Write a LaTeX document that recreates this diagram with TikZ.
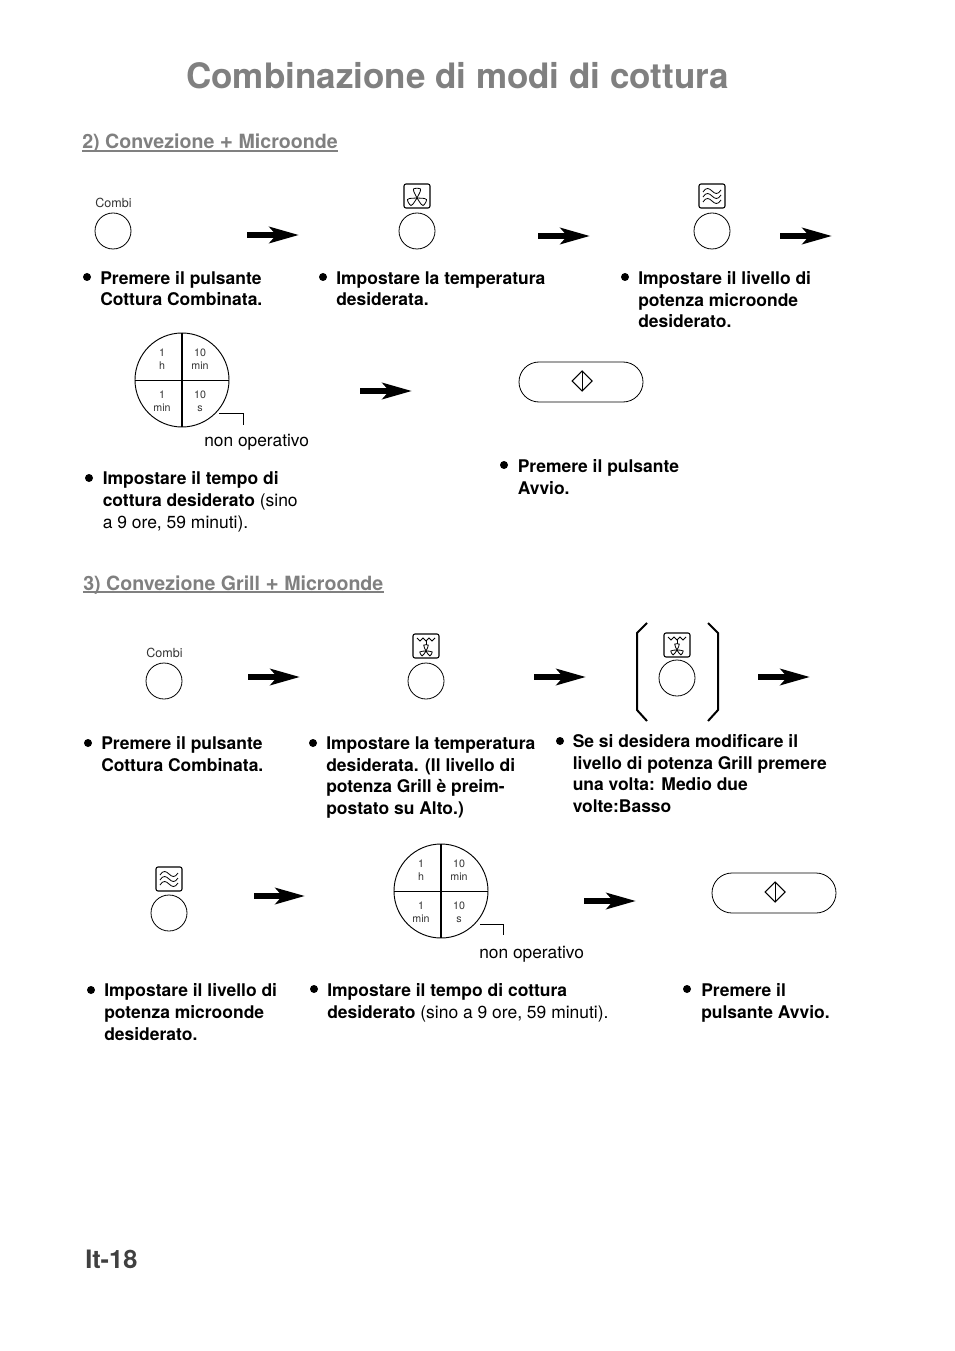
\documentclass[tikz,border=0pt]{standalone}
\usepackage{fontspec}
\setmainfont{TeX Gyre Heros}
\usepackage{xcolor}
\usetikzlibrary{arrows.meta, shapes.geometric}
\definecolor{titlegrey}{rgb}{0.50,0.50,0.50}
\definecolor{pagegrey}{rgb}{0.25,0.25,0.25}
\newcommand{\bigplus}{{\fontsize{17}{18}\selectfont+}}
\tikzset{
    stepbtn/.style={draw, circle, line width=0.6pt, minimum size=27pt, inner sep=0pt},
    flowarrow/.style={line width=4.4pt, -{Stealth[length=22pt, width=12pt, inset=5pt]}},
    dot/.style={circle, fill=black, minimum size=6pt, inner sep=0pt},
    steptext/.style={anchor=base west, inner sep=0pt, align=left, font=\fontsize{13.1}{16.2}\selectfont\bfseries},
    plaintext/.style={anchor=base west, inner sep=0pt, font=\fontsize{13}{16}\selectfont},
    heading/.style={anchor=base west, inner sep=0pt, text=titlegrey, font=\fontsize{14.7}{18}\selectfont\bfseries},
    headline/.style={line width=1pt, titlegrey},
    combitext/.style={inner sep=0pt, text=black!80, font=\fontsize{9.4}{11}\selectfont},
    dialtext/.style={inner sep=0pt, align=center, text=black!80, font=\fontsize{8}{9.8}\selectfont},
    startbtn/.style={draw, line width=0.6pt, rounded corners=15pt, minimum width=93pt, minimum height=30pt, inner sep=0pt},
    pics/iconframe/.style={code={\draw[line width=0.8pt, rounded corners=1.5pt] (-13,-12) rectangle (13,12);}},
    pics/fanblades/.style={code={
        \foreach \a in {0,120,240} { \draw[line width=0.6pt, rotate=\a] (0,0) .. controls (-1,-3) and (-4,-6) .. (-3.5,-9) .. controls (-2,-10) and (2,-10) .. (3.5,-9) .. controls (4,-6) and (1,-3) .. (0,0); }
    }},
    pics/fanicon/.style={code={
        \pic at (0,0) {iconframe};
        \pic at (0,2) {fanblades};
    }},
    pics/waveicon/.style={code={
        \pic at (0,0) {iconframe};
        \foreach \y in {-5,0,5} {
            \draw[line width=0.6pt] (-9,\y+1) .. controls (-6,\y-4) and (-3,\y-3) .. (0,\y) .. controls (3,\y+3) and (6,\y+4) .. (9,\y-1);
        }
    }},
    pics/grillicon/.style={code={
        \pic at (0,0) {iconframe};
        \draw[line width=0.6pt] (-9,-8) -- (-6,-5) -- (-3,-8) -- (0,-5) -- (3,-8) -- (6,-5) -- (9,-8);
        \draw[line width=0.6pt] (0,-5) -- (0,-1);
        \pic[scale=0.65] at (0,5) {fanblades};
    }},
    pics/startmark/.style={code={
        \draw[line width=0.8pt] (0,-10) -- (10,0) -- (0,10) -- (-10,0) -- cycle;
        \draw[line width=0.6pt] (0,-10) -- (0,10);
    }},
}
\newcommand{\timerdial}[3]{%
    \node[draw, circle, line width=0.7pt, minimum size=70.5pt, inner sep=0pt] (#3) at (#1,#2) {};
    \draw[line width=1.5pt] (#3.north) -- (#3.south);
    \draw[line width=0.7pt] (#3.west) -- (#3.east);
    \node[dialtext] (#3h) at (#1-20,#2-21) {1\\h};
    \node[dialtext] (#3tm) at (#1+18,#2-21) {10\\min};
    \node[dialtext] (#3m) at (#1-20,#2+21) {1\\min};
    \node[dialtext] (#3ts) at (#1+18,#2+21) {10\\s};
}
\begin{document}
\begin{tikzpicture}[x=0.75pt, y=-0.75pt]
    \useasboundingbox (0,0) rectangle (954,1351);
    \fill[white] (0,0) rectangle (954,1351);
    % title
    \node[anchor=base west, inner sep=0pt, text=titlegrey, font=\fontsize{26.25}{30}\selectfont\bfseries] (title) at (186,89) {Combinazione di modi di cottura};
    \node[heading] (headA) at (82,149) {2) Convezione \bigplus{} Microonde};
    \draw[headline] ([yshift=-1.4pt]headA.base west) -- ([yshift=-1.4pt]headA.base east);
    % first row
    \node[combitext] (combiA) at (113.5,203) {Combi};
    \node[stepbtn] (btnA) at (113,231) {};
    \pic at (417,196) {fanicon};
    \node[stepbtn] (btnB) at (417,231) {};
    \pic at (712,196) {waveicon};
    \node[stepbtn] (btnC) at (712,231) {};
    \coordinate (arAs) at (247,235); \coordinate (arAe) at (299,235);
    \coordinate (arBs) at (538,236); \coordinate (arBe) at (590,236);
    \coordinate (arCs) at (780,236); \coordinate (arCe) at (832,236);
    \draw[flowarrow] (arAs) -- (arAe);
    \draw[flowarrow] (arBs) -- (arBe);
    \draw[flowarrow] (arCs) -- (arCe);
    \node[dot] (dotA) at (87,277) {};
    \node[steptext] (txtA) at (100,306) {Premere il pulsante\\Cottura Combinata.};
    \node[dot] (dotB) at (323,277) {};
    \node[steptext] (txtB) at (336,306) {Impostare la temperatura\\desiderata.};
    \node[dot] (dotC) at (625,277) {};
    \node[steptext] (txtC) at (638,328) {Impostare il livello di\\potenza microonde\\desiderato.};
    % dial and start
    \timerdial{182}{380}{dialA}
    \coordinate (leadAa) at (219,413); \coordinate (leadAb) at (243,413); \coordinate (leadAc) at (243,425);
    \draw[line width=0.6pt] (leadAa) -- (leadAb) -- (leadAc);
    \node[plaintext] (nonA) at (204,446) {non operativo};
    \coordinate (arDs) at (360,391); \coordinate (arDe) at (412,391);
    \draw[flowarrow] (arDs) -- (arDe);
    \node[startbtn] (startA) at (581,382) {};
    \pic at (582,381) {startmark};
    \node[dot] (dotD) at (89,478) {};
    \node[steptext, font=\fontsize{13.1}{16.2}\selectfont] (txtD) at (102.5,528) {\textbf{Impostare il tempo di}\\\textbf{cottura desiderato} (sino\\a 9 ore, 59 minuti).};
    \node[dot] (dotE) at (504,465) {};
    \node[steptext] (txtE) at (517.5,494) {Premere il pulsante\\Avvio.};
    % second section
    \node[heading] (headB) at (83,590) {3) Convezione Grill \bigplus{} Microonde};
    \draw[headline] ([yshift=-1.4pt]headB.base west) -- ([yshift=-1.4pt]headB.base east);
    \node[combitext] (combiB) at (164.5,653) {Combi};
    \node[stepbtn] (btnD) at (164,681) {};
    \pic at (426,646) {grillicon};
    \node[stepbtn] (btnE) at (426,681) {};
    \pic at (677,645) {grillicon};
    \node[stepbtn] (btnF) at (677,678) {};
    \draw[line width=1.5pt] (647,623) -- (637,633) -- (637,710) -- (647,721);
    \draw[line width=1.5pt] (708,623) -- (718,633) -- (718,710) -- (708,721);
    \coordinate (arEs) at (248,677); \coordinate (arEe) at (300,677);
    \coordinate (arFs) at (534,677); \coordinate (arFe) at (586,677);
    \coordinate (arGs) at (758,677); \coordinate (arGe) at (810,677);
    \draw[flowarrow] (arEs) -- (arEe);
    \draw[flowarrow] (arFs) -- (arFe);
    \draw[flowarrow] (arGs) -- (arGe);
    \node[dot] (dotF) at (88,743) {};
    \node[steptext] (txtF) at (101,771) {Premere il pulsante\\Cottura Combinata.};
    \node[dot] (dotG) at (313,743) {};
    \node[steptext] (txtG) at (326,814.5) {Impostare la temperatura\\desiderata. (Il livello di\\potenza Grill è preim-\\postato su Alto.)};
    \node[dot] (dotH) at (560,741) {};
    \node[steptext] (txtH) at (572.5,812.5) {Se si desidera modificare il\\livello di potenza Grill premere\\una volta: Medio due\\volte:Basso};
    % last row
    \pic at (169,879) {waveicon};
    \node[stepbtn] (btnG) at (169,913) {};
    \coordinate (arHs) at (254,896); \coordinate (arHe) at (305,896);
    \draw[flowarrow] (arHs) -- (arHe);
    \timerdial{441}{891}{dialB}
    \coordinate (leadBa) at (480,924); \coordinate (leadBb) at (503,924); \coordinate (leadBc) at (503,935);
    \draw[line width=0.6pt] (leadBa) -- (leadBb) -- (leadBc);
    \node[plaintext] (nonB) at (479,958) {non operativo};
    \coordinate (arIs) at (584,901); \coordinate (arIe) at (636,901);
    \draw[flowarrow] (arIs) -- (arIe);
    \node[startbtn] (startB) at (774,893) {};
    \pic at (775,892) {startmark};
    \node[dot] (dotI) at (91,990) {};
    \node[steptext] (txtI) at (104,1040) {Impostare il livello di\\potenza microonde\\desiderato.};
    \node[dot] (dotJ) at (314,989) {};
    \node[steptext, font=\fontsize{13.1}{16.2}\selectfont] (txtJ) at (327,1018) {\textbf{Impostare il tempo di cottura}\\\textbf{desiderato} (sino a 9 ore, 59 minuti).};
    \node[dot] (dotK) at (687,989) {};
    \node[steptext] (txtK) at (701,1018) {Premere il\\pulsante Avvio.};
    % page number
    \node[anchor=base west, inner sep=0pt, text=pagegrey, font=\fontsize{19}{22}\selectfont\bfseries] (pagenum) at (85,1268) {It-18};
\end{tikzpicture}
\end{document}
